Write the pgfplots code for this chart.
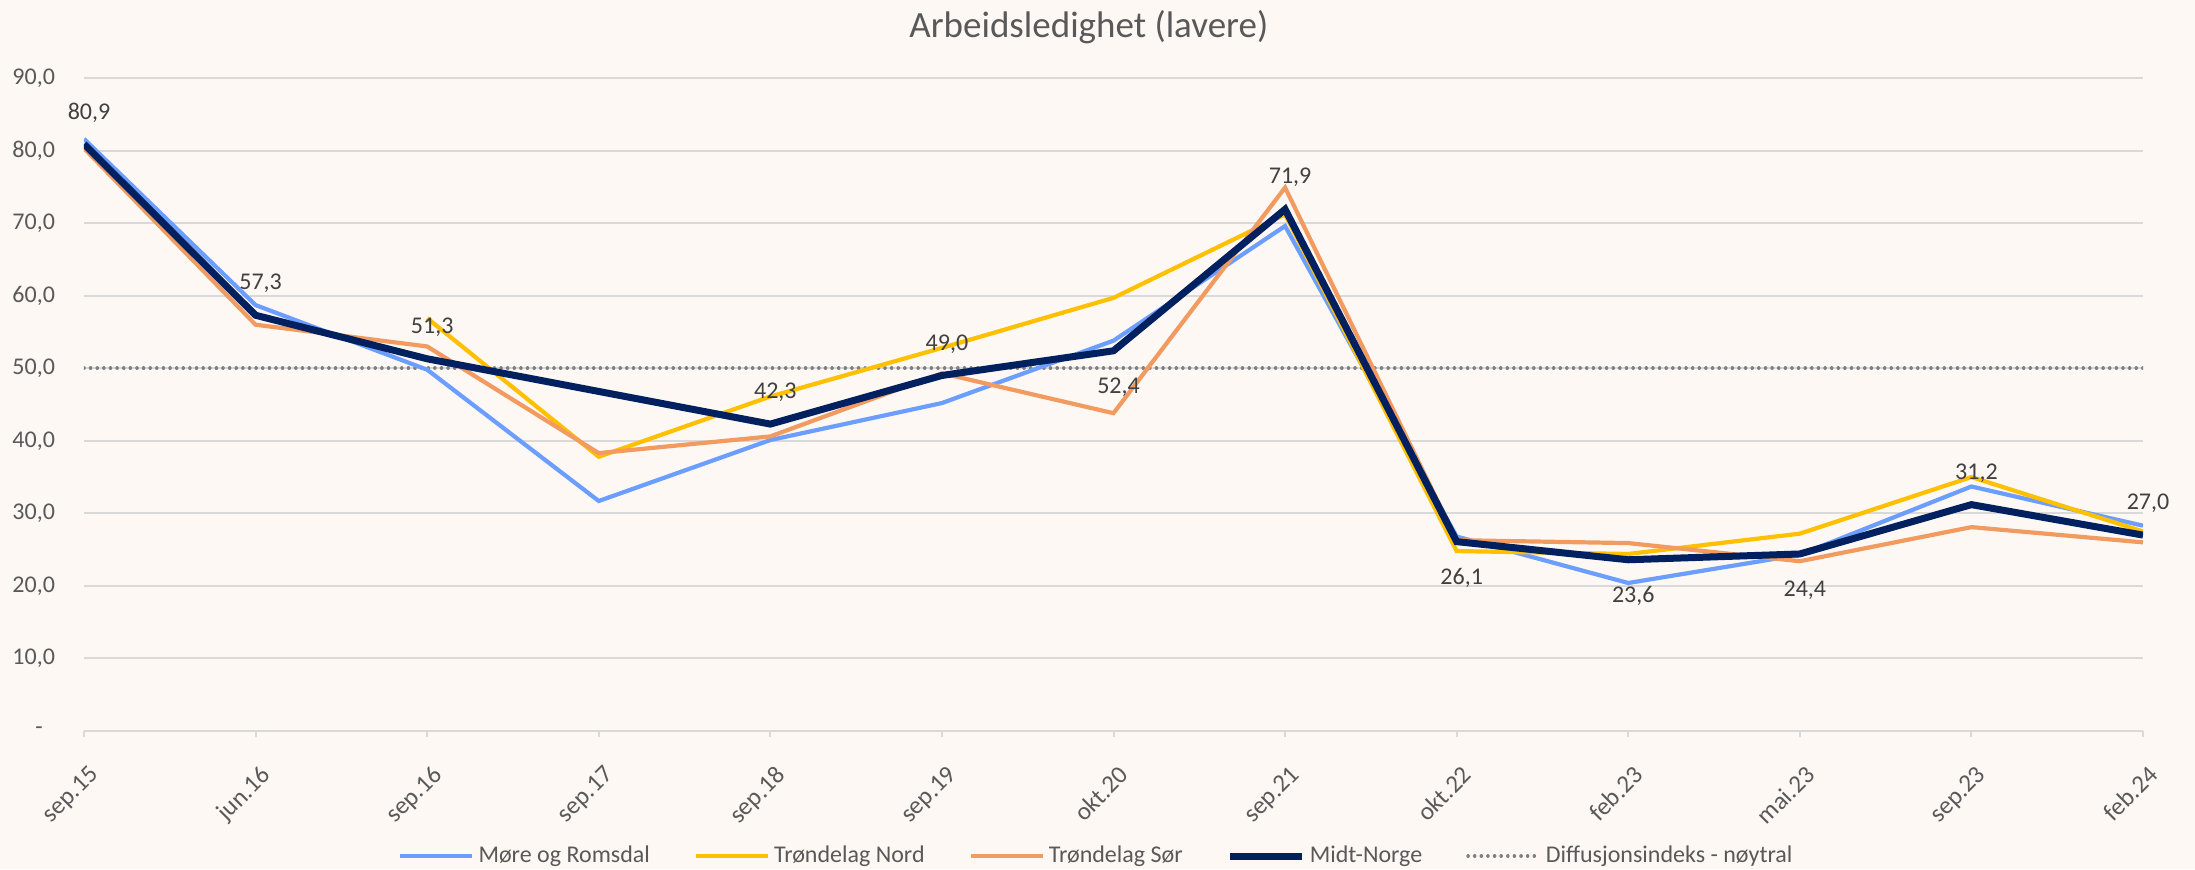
\documentclass[border=0pt]{standalone}
\usepackage{fontspec}
\setmainfont{Carlito}
\usepackage{pgfplots}
\usepackage{pgfplotstable}
\pgfplotsset{compat=1.18}
\definecolor{bgcol}{HTML}{FEF8F5}
\definecolor{gridcol}{HTML}{D9D9D9}
\definecolor{txtcol}{HTML}{595959}
\definecolor{lblcol}{HTML}{404040}
\definecolor{cblue}{HTML}{6C9EFF}
\definecolor{cyellow}{HTML}{FFC000}
\definecolor{corange}{HTML}{F19B60}
\definecolor{cnavy}{HTML}{002060}
\definecolor{cdot}{HTML}{7F7F7F}

\pgfplotstableread{
x y
0 81.6
1 58.7
2 49.8
3 31.7
4 40.1
5 45.2
6 53.8
7 69.6
8 26.8
9 20.4
10 24.3
11 33.7
12 28.3
}\more
\pgfplotstableread{
x y
2 56.9
3 37.8
4 46.1
5 52.8
6 59.7
7 71.2
8 24.8
9 24.4
10 27.2
11 35.0
12 27.5
}\nord
\pgfplotstableread{
x y
0 80.3
1 56.0
2 53.0
3 38.3
4 40.6
5 49.3
6 43.8
7 74.9
8 26.3
9 25.9
10 23.4
11 28.1
12 26.0
}\sor
\pgfplotstableread{
x y pos
0 80.9 1
1 57.3 1
2 51.3 1
4 42.3 1
5 49.0 1
6 52.4 -1
7 71.9 1
8 26.1 -1
9 23.6 -1
10 24.4 -1
11 31.2 1
12 27.0 1
}\midt
\pgfplotstableread{
x y
0 50
1 50
2 50
3 50
4 50
5 50
6 50
7 50
8 50
9 50
10 50
11 50
12 50
}\diff

\begin{document}
\begin{tikzpicture}
\fill[bgcol] (-42pt,-69pt) rectangle (1055.5pt,365.5pt);
\useasboundingbox (-42pt,-69pt) rectangle (1055.5pt,365.5pt);
\begin{axis}[
  at={(0,0)}, anchor=south west,
  scale only axis, width=1029.5pt, height=326.5pt,
  xmin=0, xmax=12, ymin=0, ymax=90,
  xtick={0,...,12},
  xticklabels={sep.15,jun.16,sep.16,sep.17,sep.18,sep.19,okt.20,sep.21,okt.22,feb.23,mai.23,sep.23,feb.24},
  ytick={0,10,...,90},
  yticklabels={{-\hphantom{0}},{10,0},{20,0},{30,0},{40,0},{50,0},{60,0},{70,0},{80,0},{90,0}},
  axis x line*=bottom, axis y line*=left,
  y axis line style={draw=none},
  x axis line style={gridcol, line width=1pt},
  ymajorgrids, grid style={gridcol, line width=1pt},
  tick align=outside, major tick length=3pt,
  xtick style={gridcol, line width=1pt},
  ytick style={draw=none},
  ticklabel style={font=\fontsize{12pt}{14pt}\selectfont, text=txtcol},
  xticklabel style={inner sep=0pt, xshift=2pt, anchor=north east, rotate=45, font=\fontsize{12.5pt}{14pt}\selectfont},
  xticklabel shift=13.5pt,
  yticklabel style={xshift=-8pt},
  /pgf/number format/assume math mode=true,
  title={Arbeidsledighet (lavere)},
  title style={at={(0.488,1)}, anchor=center, yshift=19.5pt, font=\fontsize{18.5pt}{21pt}\selectfont, text=txtcol},
  legend style={at={(0.4922,-0.1915)}, anchor=center, draw=none, fill=none,
    font=\fontsize{12pt}{14pt}\selectfont, text=txtcol,
    /tikz/every even column/.append style={column sep=20pt}},
  legend columns=5,
  legend image code/.code={\draw[#1] (0pt,0pt) -- (36pt,0pt);},
]
\addplot[forget plot, cdot, line width=1.8pt, line cap=round, dash pattern=on 0.01pt off 3.3pt] table[x=x,y=y]{\diff};
\addplot[cblue, line width=2.1pt, mark=none] table[x=x,y=y]{\more};
\addlegendentry{Møre og Romsdal}
\addplot[cyellow, line width=2.1pt, mark=none] table[x=x,y=y]{\nord};
\addlegendentry{Trøndelag Nord}
\addplot[corange, line width=2.1pt, mark=none] table[x=x,y=y]{\sor};
\addlegendentry{Trøndelag Sør}
\addplot[cnavy, line width=3.5pt, mark=none,
  nodes near coords={\pgfmathprintnumber[fixed,fixed zerofill,precision=1,use comma,assume math mode=true]{\pgfplotspointmeta}},
  point meta=explicit,
  visualization depends on={\thisrow{pos}\as\lpos},
  every node near coord/.append style={anchor=center, xshift=2.5pt, yshift=\lpos*16.9pt-1.1pt, font=\fontsize{12pt}{14pt}\selectfont, text=lblcol}
] table[x=x,y=y,meta=y]{\midt};
\addlegendentry{Midt-Norge}
\addlegendimage{cdot, line width=1.8pt, line cap=round, dash pattern=on 0.01pt off 3.3pt}
\addlegendentry{Diffusjonsindeks - nøytral}
\end{axis}
\end{tikzpicture}
\end{document}
